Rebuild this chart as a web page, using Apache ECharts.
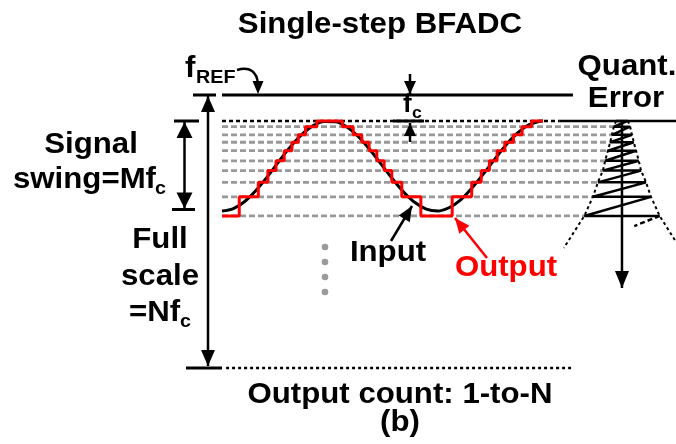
<!DOCTYPE html>
<html>
<head>
<meta charset="utf-8">
<script src="https://cdn.jsdelivr.net/npm/echarts@6/dist/echarts.min.js"></script>
<style>
  html, body { margin: 0; padding: 0; background: #fff; }
  #chart { width: 676px; height: 444px; }
</style>
</head>
<body>
<div id="chart"></div>
<script>
// Reference levels (comparator thresholds), bottom to top, in % of full scale
const levels = [55.7, 62.7, 68.0, 72.3, 75.9, 79.6, 82.7, 85.4, 88.4, 90.5];

// Input signal: sample times (% of window) and values (% of full scale)
const inputT = [0, 2.5, 5, 7.5, 10, 12.5, 15, 17.5, 20, 22.5, 25, 27.5, 30, 32.5, 35,
                37.5, 40, 42.5, 45, 47.5, 50, 52.5, 55, 57.5, 60, 62.5, 65, 67.5, 70, 70.7];
const inputV = [57.5, 58.4, 61.0, 65.1, 70.1, 75.6, 80.9, 85.4, 88.7, 90.3, 90.2, 88.3, 84.8, 80.1, 74.8,
                69.4, 64.5, 60.6, 58.2, 57.5, 58.7, 61.5, 65.8, 70.9, 76.3, 81.6, 85.9, 89.0, 90.4, 90.5];

// Quantized output: switching times and the level index held from each time
const outT = [0, 3.8, 8.0, 10.1, 11.9, 13.7, 15.4, 16.8, 18.4, 20.9,
              26.5, 28.9, 30.8, 32.4, 34.1, 35.7, 37.4, 39.6, 43.8,
              50.7, 55.0, 57.1, 58.9, 60.6, 62.3, 64.2, 66.1, 68.2, 70.7];
const outIdx = [0, 1, 2, 3, 4, 5, 6, 7, 8, 9,
                8, 7, 6, 5, 4, 3, 2, 1, 0,
                1, 2, 3, 4, 5, 6, 7, 8, 9, 9];

// Quantization error: half-width of the sawtooth at each level, and its axis position
const errHalf = [8.3, 6.4, 5.3, 4.2, 3.7, 3.1, 2.6, 2.2, 1.8, 1.3];
const errAxisX = 88.1;
const errAxisEnd = 29.3;
const errTail = [90.8, 52.0];
const errEnvLeftEnd = [75.3, 44.0];
const errEnvRightEnd = [100, 46.2];

// Frame lines: f_REF (full scale) and the bottom of the count range
const fullScale = 100;
const refLineEnd = 77.3;
const bottomLine = [0.9, 76.9];
const topDottedEnd = 74.4;

const K = 1.04;           // horizontal stretch of the lettering
const FONT = '"Liberation Sans", Arial, Helvetica, sans-serif';
const RED = '#ff0000';

const chart = echarts.init(document.getElementById('chart'), null, { renderer: 'canvas' });

function lineSeries(data, color, width, type, z) {
  return {
    type: 'line', data, showSymbol: false, symbol: 'none', silent: true, clip: false,
    animation: false, z: z || 2,
    lineStyle: { color, width, type: type || 'solid', cap: 'butt' }
  };
}

const series = [];

// gray dashed reference levels, running into the error plot
levels.slice(0, -1).forEach((L, i) => {
  series.push(lineSeries([[0, L], [errAxisX - errHalf[i], L]], '#999999', 2.8, [6, 3], 1));
});
// top level: dotted across the signal area, solid over the error plot
const topL = levels[levels.length - 1];
series.push(lineSeries([[0, topL], [topDottedEnd, topL]], '#000', 2.5, [4, 3], 1));
series.push(lineSeries([[topDottedEnd, topL], [100, topL]], '#000', 2.5, 'solid', 1));

// f_REF line and bottom dotted line
series.push(lineSeries([[0, fullScale], [refLineEnd, fullScale]], '#000', 3));
series.push(lineSeries([[bottomLine[0], 0], [bottomLine[1], 0]], '#000', 2.5, [3, 3]));

// input sinusoid
series.push(Object.assign(lineSeries(inputT.map((t, i) => [t, inputV[i]]), '#000', 3, 'solid', 3),
  { smooth: 0.35 }));

// quantized output staircase
series.push(Object.assign(lineSeries(outT.map((t, i) => [t, levels[outIdx[i]]]), RED, 3, 'solid', 4),
  { step: 'end' }));

// quantization-error sawtooth
const saw = [];
levels.forEach((L, i) => {
  saw.push([errAxisX + errHalf[i], L]);
  saw.push([errAxisX - errHalf[i], L]);
});
series.push(lineSeries(saw, '#000', 2.5, 'solid', 3));
series.push(lineSeries([[errAxisX + errHalf[0], levels[0]], errTail], '#000', 2.5, [5, 3], 3));

// dotted envelope of the error
const envL = levels.map((L, i) => [errAxisX - errHalf[i], L]).reverse();
envL.push(errEnvLeftEnd);
const envR = levels.map((L, i) => [errAxisX + errHalf[i], L]).reverse();
envR.push(errEnvRightEnd);
series.push(lineSeries(envL, '#000', 2, [3, 3], 2));
series.push(lineSeries(envR, '#000', 2, [3, 3], 2));

chart.setOption({
  animation: false,
  backgroundColor: '#fff',
  grid: { left: 222, right: 0, top: 95, bottom: 76, containLabel: false },
  xAxis: { type: 'value', min: 0, max: 100, show: false },
  yAxis: { type: 'value', min: 0, max: 100, show: false },
  series
});

// ---- annotations ----
function head(tipX, tipY, fromX, fromY, len, half, color) {
  const dx = tipX - fromX, dy = tipY - fromY, d = Math.hypot(dx, dy);
  const ux = dx / d, uy = dy / d;
  const bx = tipX - ux * len, by = tipY - uy * len;
  return {
    type: 'polygon', z: 20, silent: true,
    shape: { points: [[tipX, tipY], [bx - uy * half, by + ux * half], [bx + uy * half, by - ux * half]] },
    style: { fill: color }
  };
}
function seg(x1, y1, x2, y2, color, width, dash) {
  return {
    type: 'line', z: 19, silent: true,
    shape: { x1, y1, x2, y2 },
    style: { stroke: color, lineWidth: width, lineDash: dash || null }
  };
}
function arrow(x1, y1, x2, y2, color, len, half, both) {
  const out = [seg(x1, y1, x2, y2, color, 2.5), head(x2, y2, x1, y1, len, half, color)];
  if (both) out.push(head(x1, y1, x2, y2, len, half, color));
  return out;
}
function text(str, x, y, size, align, color) {
  return {
    type: 'text', x, y, scaleX: K, z: 30, silent: true,
    style: {
      text: str, x: 0, y: 0, fill: color || '#000',
      font: 'bold ' + size + 'px ' + FONT,
      textAlign: align, textVerticalAlign: 'middle', verticalAlign: 'middle'
    }
  };
}
// text placed by its baseline (middle of caps sits ~0.355 em above it)
function tb(str, x, base, size, align, color) {
  return text(str, x, base - size * 0.355, size, align, color);
}

const S = 30, SUB = 19;
const errTop = chart.convertToPixel({ gridIndex: 0 }, [errAxisX, topL]);
const errBot = chart.convertToPixel({ gridIndex: 0 }, [errAxisX, errAxisEnd]);

const g = [];
g.push(tb('Single-step BFADC', 380, 35, S, 'center'));
g.push(tb('f', 185, 79, S, 'left'));
g.push(tb('REF', 196, 85, SUB, 'left'));
g.push(tb('Quant.', 627, 77, S, 'center'));
g.push(tb('Error', 626, 109, S, 'center'));
g.push(tb('Signal', 91, 155, S, 'center'));
g.push(tb('swing=Mf', 13, 190, S, 'left'));
g.push(tb('c', 155, 196, SUB, 'left'));
g.push(tb('Full', 160, 250, S, 'center'));
g.push(tb('scale', 160, 287, S, 'center'));
g.push(tb('=Nf', 129, 323, S, 'left'));
g.push(tb('c', 180, 329, SUB, 'left'));
g.push(tb('f', 403, 114, 25, 'left'));
g.push(tb('c', 412, 119, 17, 'left'));
g.push(tb('Input', 388, 263, S, 'center'));
g.push(tb('Output', 506, 278, S, 'center', RED));
g.push(tb('Output count: 1-to-N', 400, 405, S, 'center'));
g.push(tb('(b)', 400, 433, S, 'center'));

// full-scale and signal-swing spans
g.push(seg(193, 95, 216, 95, '#000', 3));
g.push(seg(186, 368, 222, 368, '#000', 3));
g.push(...arrow(208, 96, 208, 366, '#000', 16, 7, true));
g.push(seg(174, 121, 199, 121, '#000', 3));
g.push(seg(172, 209.5, 195, 209.5, '#000', 3));
g.push(...arrow(184.5, 122, 184.5, 208.5, '#000', 16, 8, true));

// f_REF pointer
g.push({
  type: 'bezierCurve', z: 19, silent: true,
  shape: { x1: 237, y1: 70, cpx1: 250, cpy1: 66, cpx2: 257, cpy2: 72, x2: 258, y2: 84 },
  style: { stroke: '#000', lineWidth: 2.5, fill: null }
});
g.push(head(258, 94, 258, 80, 13, 5.5, '#000'));

// f_c step markers
g.push(...arrow(410, 74, 410, 94, '#000', 13, 6));
g.push(seg(393, 121, 424, 121, '#000', 3));
g.push(...arrow(410, 142, 410, 123, '#000', 13, 6));

// label pointers
g.push(...arrow(391, 241, 412, 206, '#000', 15, 6.5));
g.push(...arrow(487, 258, 455, 218, RED, 15, 6.5));

// error axis
g.push(...arrow(errTop[0], errTop[1], errBot[0], errBot[1], '#000', 17, 7));

// vertical ellipsis
[247, 262, 277, 292].forEach(y => {
  g.push({ type: 'circle', z: 19, silent: true, shape: { cx: 325, cy: y, r: 3.3 }, style: { fill: '#9a9a9a' } });
});

chart.setOption({ graphic: { elements: g } });
</script>
</body>
</html>
